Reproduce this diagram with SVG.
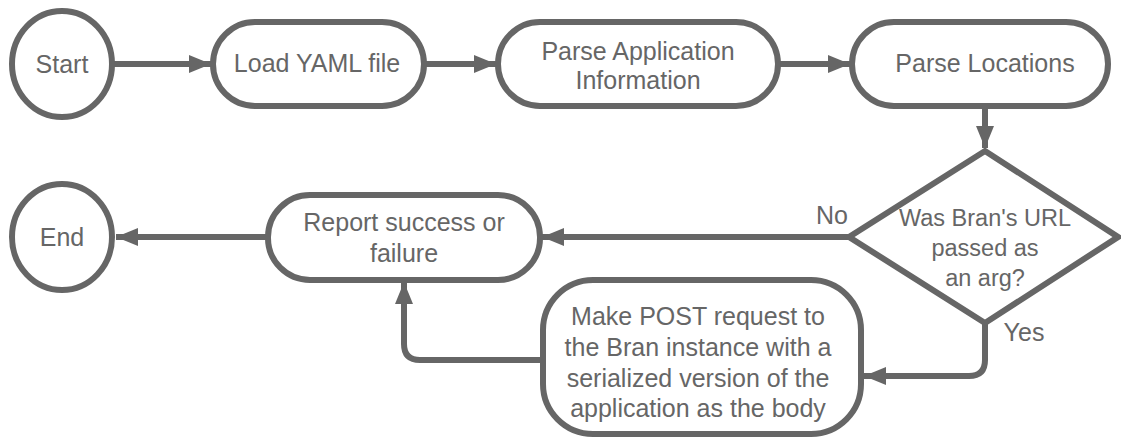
<svg xmlns="http://www.w3.org/2000/svg" width="1121" height="447" viewBox="0 0 1121 447">
<style>
.n{fill:#fff;stroke:#666;stroke-width:6}
.t{font-family:"Liberation Sans",Arial,sans-serif;font-size:25px;fill:#666;text-anchor:middle}
.d{font-size:23.5px}
.c{fill:none;stroke:#666;stroke-width:6;stroke-linejoin:round}
</style>
<defs>
<marker id="a" markerUnits="userSpaceOnUse" markerWidth="24" markerHeight="20" refX="22" refY="10" orient="auto">
<path d="M0,1 L22,10 L0,19 Z" fill="#666"/>
</marker>
</defs>
<rect width="1121" height="447" fill="#fff"/>
<g id="connectors">
<path class="c" d="M114,64 H211" marker-end="url(#a)"/>
<path class="c" d="M425,64 H496" marker-end="url(#a)"/>
<path class="c" d="M779,64 H850" marker-end="url(#a)"/>
<path class="c" d="M985,107 V148" marker-end="url(#a)"/>
<path class="c" d="M848,237 H542" marker-end="url(#a)"/>
<path class="c" d="M268,237 H116" marker-end="url(#a)"/>
<path class="c" d="M985,322 V360 Q985,376 969,376 H864" marker-end="url(#a)"/>
<path class="c" d="M543,360 H420 Q404,360 404,344 V282" marker-end="url(#a)"/>
<text class="t" x="832" y="224">No</text>
<text class="t" x="1024" y="341">Yes</text>
</g>
<g id="start"><ellipse class="n" cx="62" cy="64" rx="50" ry="53"/><text class="t" x="62" y="73">Start</text></g>
<g id="load"><rect class="n" x="213" y="22" width="211" height="84" rx="42"/><text class="t" x="317" y="72">Load YAML file</text></g>
<g id="parseapp"><rect class="n" x="498" y="22" width="280" height="84" rx="42"/><text class="t" x="638" y="60">Parse Application</text><text class="t" x="638" y="89">Information</text></g>
<g id="parseloc"><rect class="n" x="852" y="22" width="256" height="84" rx="42"/><text class="t" x="985" y="72">Parse Locations</text></g>
<g id="decision"><polygon class="n" points="985,151 1118,237 985,323 849,237"/><text class="t d" x="985" y="226">Was Bran's URL</text><text class="t d" x="985" y="256">passed as</text><text class="t d" x="985" y="286">an arg?</text></g>
<g id="report"><rect class="n" x="268" y="195" width="272" height="85" rx="42"/><text class="t" x="404" y="231">Report success or</text><text class="t" x="404" y="262">failure</text></g>
<g id="end"><ellipse class="n" cx="62" cy="237" rx="50" ry="53"/><text class="t" x="62" y="246">End</text></g>
<g id="post"><rect class="n" x="543" y="280" width="318" height="154" rx="50"/><text class="t" x="698" y="325">Make POST request to</text><text class="t" x="698" y="356">the Bran instance with a</text><text class="t" x="698" y="387">serialized version of the</text><text class="t" x="698" y="417">application as the body</text></g>
</svg>
